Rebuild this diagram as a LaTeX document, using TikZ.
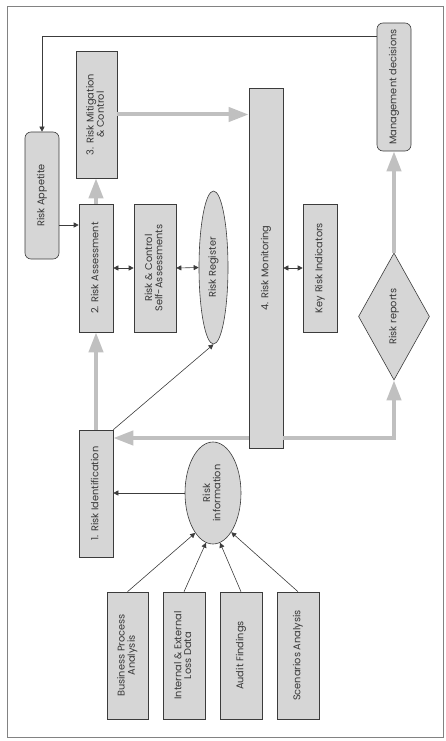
\documentclass[tikz,border=0pt]{standalone}
\usepackage{fontspec}
\setmainfont{Poppins}
\usetikzlibrary{arrows.meta,shapes.geometric,calc}
\definecolor{boxgray}{RGB}{214,214,214}
\definecolor{arrgray}{RGB}{192,192,192}
\definecolor{linedark}{RGB}{60,60,60}
\definecolor{framegray}{RGB}{130,130,130}
\newcommand{\rt}[1]{\rotatebox{90}{\begin{tabular}{@{}c@{}}#1\end{tabular}}}
\begin{document}
\begin{tikzpicture}[x=1pt,y=-1pt,
  font=\fontsize{9.8}{9.6}\selectfont,
  box/.style={draw=linedark, fill=boxgray, inner sep=0pt, line width=0.6pt, text=black!78},
  rbox/.style={box, rounded corners=6pt},
  ell/.style={box, ellipse},
  dia/.style={box, diamond},
  arr/.style={draw=linedark, line width=0.6pt, -{Triangle[length=5pt,width=5pt]}},
  darr/.style={draw=linedark, line width=0.6pt, {Triangle[length=5pt,width=5pt]}-{Triangle[length=5pt,width=5pt]}},
  garr/.style={draw=arrgray, line width=4pt, -{Triangle[length=20pt,width=14pt]}},
  frame/.style={draw=framegray, line width=0.9pt}]
\useasboundingbox (0,0) rectangle (446,741);
\draw[frame] (7,6) rectangle (443,737);

\coordinate (y225) at (0,225);
\coordinate (y438) at (0,438);

\node[rbox, minimum width=34pt, minimum height=127pt] (app) at (42,195.5) {\rt{Risk Appetite}};
\node[rbox, minimum width=34pt, minimum height=128pt] (mgmt) at (394,87) {\rt{Management decisions}};
\node[box, minimum width=41pt, minimum height=127pt] (mit) at (96.5,114.5) {\rt{3. Risk Mitigation\\ \& Control}};
\node[box, minimum width=34pt, minimum height=360pt] (mon) at (266,268) {\rt{4. Risk Monitoring}};
\node[box, minimum width=34pt, minimum height=128pt] (ass) at (96,268) {\rt{2. Risk Assessment}};
\node[box, minimum width=42pt, minimum height=128pt] (rcsa) at (155,268) {\rt{Risk \& Control\\ Self-Assessments}};
\node[ell, minimum width=29pt, minimum height=153pt] (reg) at (213.5,267.5) {\rt{Risk Register}};
\node[box, minimum width=34pt, minimum height=128pt] (kri) at (320,268) {\rt{Key Risk Indicators}};
\node[dia, minimum width=71pt, minimum height=127pt, aspect=0.56] (rep) at (394,316.5) {\rt{Risk reports}};
\node[box, minimum width=34pt, minimum height=127pt] (ident) at (96,493.5) {\rt{1. Risk Identification}};
\node[ell, minimum width=56pt, minimum height=102pt] (info) at (213,493) {\rt{Risk\\ information}};
\node[box, minimum width=41pt, minimum height=127pt] (bpa) at (127.5,655.5) {\rt{Business Process\\ Analysis}};
\node[box, minimum width=42pt, minimum height=127pt] (ield) at (184,655.5) {\rt{Internal \& External\\ Loss Data}};
\node[box, minimum width=42pt, minimum height=127pt] (af) at (241,655.5) {\rt{Audit Findings}};
\node[box, minimum width=42pt, minimum height=127pt] (sa) at (298,655.5) {\rt{Scenarios Analysis}};

% thin black connectors
\draw[arr] ($(mgmt.north west)+(0,14)$) -| (app.north);
\draw[arr] (app.east |- y225) -- (ass.west |- y225);
\draw[darr] (ass.east) -- (rcsa.west);
\draw[darr] (rcsa.east) -- (reg.west);
\draw[darr] (mon.east |- kri.west) -- (kri.west);
\draw[arr] (ident.north east) -- (reg.south);
\draw[arr] (info.west) -- (ident.east |- info.west);
\draw[arr] (bpa.north) -- (info.246);
\draw[arr] (ield.north) -- (info.262);
\draw[arr] (af.north) -- (info.278);
\draw[arr] (sa.north) -- (info.295);

% thick gray connectors
\draw[garr] (mit.east) -- (mon.west |- mit.east);
\draw[garr] (ass.north) -- (ass.north |- mit.south);
\draw[garr] (ident.north) -- (ass.south);
\draw[garr] (rep.north) -- (mgmt.south);
\draw[garr] (mon.west |- y438) -- (ident.east |- y438);
\draw[garr] (mon.east |- y438) -| (rep.south);
\end{tikzpicture}
\end{document}
